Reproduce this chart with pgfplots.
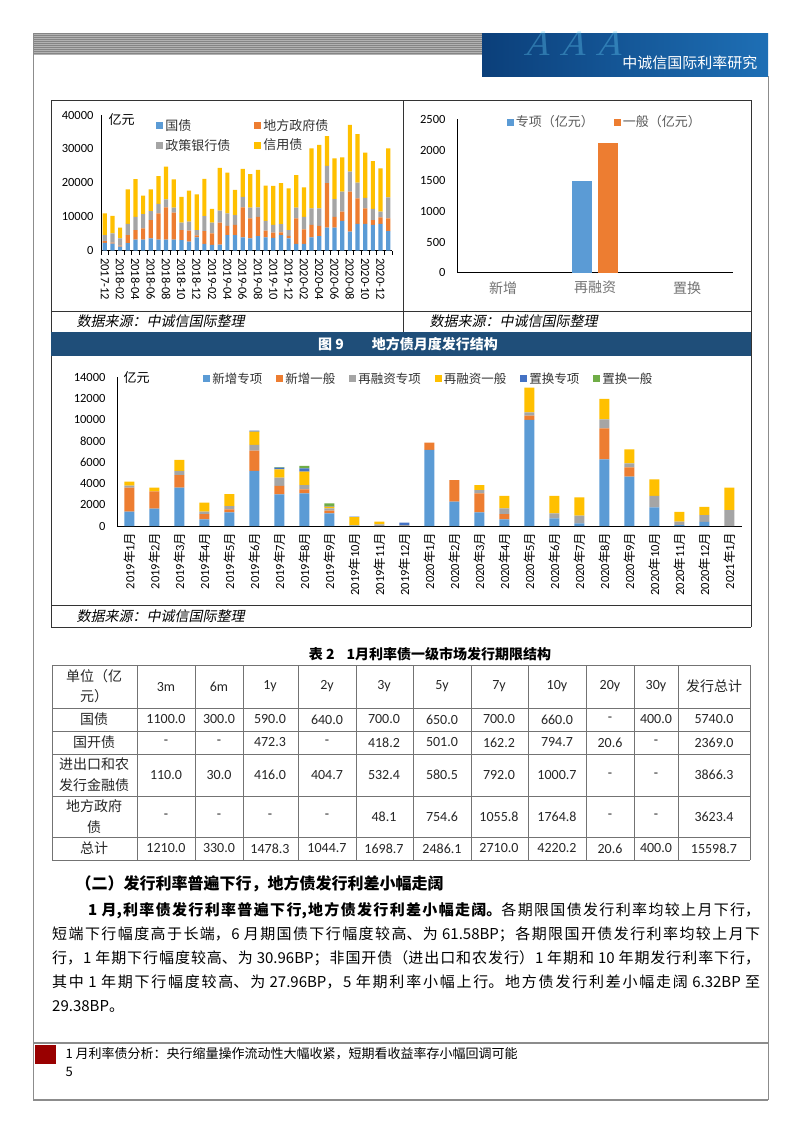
\documentclass[border=0pt]{standalone}
\usepackage{fontspec}
\setmainfont{Noto Sans CJK SC}
\newfontfamily\numf{Carlito}
\newfontfamily\srcfont[FakeSlant=0.2]{Noto Sans CJK SC}
\newfontfamily\decof[FakeSlant=0.3]{Liberation Serif}
\usepackage{pgfplots}
\usepackage{pgfplotstable}
\pgfplotsset{compat=1.18}
\definecolor{cA}{HTML}{5B9BD5}
\definecolor{cB}{HTML}{ED7D31}
\definecolor{cC}{HTML}{A5A5A5}
\definecolor{cD}{HTML}{FFC000}
\definecolor{cE}{HTML}{4472C4}
\definecolor{cF}{HTML}{70AD47}
\definecolor{navy}{HTML}{1F4E79}
\definecolor{dred}{HTML}{990000}
\definecolor{hdA}{HTML}{0B3F7A}
\definecolor{hdB}{HTML}{1E6FB5}
\newcommand\fz[1]{\fontsize{#1}{#1}\selectfont}
\newcommand\ym[2]{{\numf #1}年{\numf #2}月}

\pgfplotstableread{
x a b c d
0 2300 500 1800 6400
1 2100 300 2700 5200
2 1200 300 2100 3200
3 2200 2400 3300 10200
4 3300 2800 3900 11100
5 3300 3300 4200 5400
6 3600 5400 2700 6400
7 3300 7700 2800 8200
8 3300 9500 2300 9700
9 3300 7900 1500 8300
10 3100 3000 2200 7600
11 2700 3200 2700 9100
12 3900 600 1600 10500
13 2000 3800 4400 11000
14 1700 3400 3200 4000
15 1800 6500 3500 12600
16 4600 2700 3700 12000
17 4600 3000 2900 7400
18 3900 8900 3100 8200
19 3600 5900 3200 9900
20 4300 5700 2800 11000
21 3900 2000 2900 10400
22 3800 1500 2300 11500
23 4600 800 2400 12100
24 3600 800 1700 12300
25 2000 7500 3200 9600
26 2000 4300 3700 8700
27 3900 3700 4900 17700
28 4300 3000 5200 18700
29 6800 13100 5100 8800
30 6800 3200 5200 12000
31 8800 2700 5900 10100
32 5600 11800 5900 13800
33 7900 7500 4700 14300
34 7900 4600 3100 13300
35 7600 1400 3300 14100
36 7900 1900 1700 12800
37 5800 3700 6200 14500
}\tA

\pgfplotstableread{
x a b c d e f
0 1350 2260 190 380 0 0
1 1630 1640 0 340 0 0
2 3610 1190 380 1040 0 0
3 630 500 220 850 0 0
4 1290 280 310 1130 0 0
5 5180 1920 530 1260 90 0
6 2980 790 780 790 160 50
7 3080 370 410 1260 310 220
8 1190 250 220 160 60 260
9 30 0 40 760 60 0
10 0 0 150 260 0 0
11 0 0 80 0 250 0
12 7160 690 0 0 0 0
13 2290 2040 0 0 0 0
14 1290 1790 310 470 0 0
15 630 500 530 1170 0 0
16 9990 400 320 2320 0 0
17 720 0 470 1640 0 0
18 250 0 720 1730 0 0
19 6280 2920 850 1910 0 0
20 4650 880 370 1320 0 0
21 1760 0 1070 1570 0 0
22 80 0 330 910 0 0
23 400 0 630 780 0 0
24 0 0 1490 2120 0 0
}\tC

\pgfplotsset{
  every axis/.append style={
    scale only axis,
    axis x line*=bottom, axis y line*=left,
    axis line style={-, black, line width=0.7pt},
    /pgf/number format/assume math mode=true,
    /pgf/number format/1000 sep={},
    scaled y ticks=false,
    tick label style={font=\numf\fz{12.5}, text=black},
    legend cell align=left,
  },
}

\begin{document}
\begin{tikzpicture}
\path[use as bounding box] (0pt,0pt) rectangle (802pt,-1133pt);
\fill[white] (0pt,0pt) rectangle (802pt,-1133pt);
\begin{scope}[x=1pt,y=-1pt]
% header
\fill[black!48] (33,33) rectangle (482,55);
\foreach \yy in {34,36,...,54} \draw[black!30, line width=0.6] (33,\yy)--(482,\yy);
\shade[left color=hdA, right color=hdB] (482,33) rectangle (768,76);
\node[text=cyan!60!white, opacity=0.35, font=\decof\fz{36}, anchor=west] at (520,44) {A\hspace{10pt}A\hspace{10pt}A};
\node[text=white, font=\fz{15}, anchor=east] at (761,63) {中诚信国际利率研究};
% page frame
\draw[black!45, line width=0.6] (33,33)--(33,1100);
\draw[black!45, line width=0.6] (768,76)--(768,1100);
\draw[black!45, line width=1.5] (33,1100)--(768,1100);
\draw[black!45, line width=2] (33,1043)--(768,1043);
\fill[dred] (35,1045) rectangle (56,1064);
\node[anchor=west, font=\fz{13}] at (62,1054) {1 月利率债分析：央行缩量操作流动性大幅收紧，短期看收益率存小幅回调可能};
\node[anchor=west, font=\fz{13}] at (62,1072) {5};
% chart frames
\draw[black!80, line width=0.7] (51,100)--(751,100);
\draw[black!80, line width=0.7] (51,100)--(51,627);
\draw[black!80, line width=0.7] (751,100)--(751,627);
\draw[black!80, line width=0.7] (403,100)--(403,332);
\draw[black!80, line width=0.7] (51,311)--(751,311);
\draw[black!80, line width=0.7] (51,605)--(751,605);
\draw[black!80, line width=0.7] (51,627)--(751,627);
\fill[navy] (51,332) rectangle (751,356);
\node[text=white, font=\bfseries\fz{14}] at (408,344) {图 9\hspace{28pt}地方债月度发行结构};
\node[anchor=west, font=\srcfont\fz{14}] at (73,321) {数据来源：中诚信国际整理};
\node[anchor=west, font=\srcfont\fz{14}] at (426,321) {数据来源：中诚信国际整理};
\node[anchor=west, font=\srcfont\fz{14}] at (73,616) {数据来源：中诚信国际整理};
\node[anchor=west, font=\fz{13}] at (105,120) {亿元};
\node[anchor=west, font=\fz{13}] at (120,378) {亿元};
% table
\node[font=\bfseries\fz{14}] at (430,654) {表 2\hspace{12pt}1月利率债一级市场发行期限结构};
\foreach \xx in {52,137,195,243,298,356,413,471,528,586,634,678,750} \draw[black!55, line width=0.7] (\xx,665)--(\xx,860);
\foreach \yy in {665,708,731,754,796,837,860} \draw[black!55, line width=0.7] (52,\yy)--(750,\yy);
\begin{scope}[every node/.style={text=black!85}]
\node[align=center, font=\fontsize{14}{20}\selectfont] at (94,686.5) {单位（亿\\元）};
\foreach \xx/\t in {166/3m,219/6m,270/1y,327/2y,384/3y,442/5y,499/7y,557/10y,610/20y,656/30y}
  \node[font=\numf\fz{14}] at (\xx,686.5) {\t};
\node[font=\fz{14}] at (714,686.5) {发行总计};
\node[font=\fz{14}] at (94,719.5) {国债};
\foreach \xx/\t in {166/1100.0,219/300.0,270/590.0,327/640.0,384/700.0,442/650.0,499/700.0,557/660.0,610/-,656/400.0,714/5740.0}
  \node[font=\numf\fz{14}] at (\xx,719.5) {\t};
\node[font=\fz{14}] at (94,742.5) {国开债};
\foreach \xx/\t in {166/-,219/-,270/472.3,327/-,384/418.2,442/501.0,499/162.2,557/794.7,610/20.6,656/-,714/2369.0}
  \node[font=\numf\fz{14}] at (\xx,742.5) {\t};
\node[align=center, font=\fontsize{14}{21}\selectfont] at (94,775) {进出口和农\\发行金融债};
\foreach \xx/\t in {166/110.0,219/30.0,270/416.0,327/404.7,384/532.4,442/580.5,499/792.0,557/1000.7,610/-,656/-,714/3866.3}
  \node[font=\numf\fz{14}] at (\xx,775) {\t};
\node[align=center, font=\fontsize{14}{21}\selectfont] at (94,816.5) {地方政府\\债};
\foreach \xx/\t in {166/-,219/-,270/-,327/-,384/48.1,442/754.6,499/1055.8,557/1764.8,610/-,656/-,714/3623.4}
  \node[font=\numf\fz{14}] at (\xx,816.5) {\t};
\node[font=\fz{14}] at (94,848.5) {总计};
\foreach \xx/\t in {166/1210.0,219/330.0,270/1478.3,327/1044.7,384/1698.7,442/2486.1,499/2710.0,557/4220.2,610/20.6,656/400.0,714/15598.7}
  \node[font=\numf\fz{14}] at (\xx,848.5) {\t};
\end{scope}
% text
\node[anchor=west, font=\bfseries\fz{16}] at (72,884) {（二）发行利率普遍下行，地方债发行利差小幅走阔};
\node[anchor=base west, inner sep=0pt] at (52,915.5) {\parbox[t]{708pt}{\fontsize{15}{24}\selectfont
\XeTeXlinebreaklocale "zh"\XeTeXlinebreakskip=0pt plus 3pt\tolerance=9999\parindent=0pt
\hspace*{36pt}\textbf{1 月,利率债发行利率普遍下行,地方债发行利差小幅走阔。}各期限国债发行利率均较上月下行，\linebreak
短端下行幅度高于长端，6 月期国债下行幅度较高、为 61.58BP；各期限国开债发行利率均较上月下\linebreak
行，1 年期下行幅度较高、为 30.96BP；非国开债（进出口和农发行）1 年期和 10 年期发行利率下行，\linebreak
其中 1 年期下行幅度较高、为 27.96BP，5 年期利率小幅上行。地方债发行利差小幅走阔 6.32BP 至\linebreak
29.38BP。}};
\end{scope}

% chart 1
\begin{axis}[
  at={(101pt,-250.7pt)}, anchor=south west,
  width=291pt, height=135.7pt,
  ybar stacked, bar width=4.2pt,
  xmin=-0.5, xmax=37.5, ymin=0, ymax=40000,
  xtick={0,2,...,36},
  xticklabels={2017-12,2018-02,2018-04,2018-06,2018-08,2018-10,2018-12,2019-02,2019-04,2019-06,2019-08,2019-10,2019-12,2020-02,2020-04,2020-06,2020-08,2020-10,2020-12},
  minor xtick={-0.5,0.5,...,37.5},
  major tick length=0pt, minor tick length=4pt, tick align=outside,
  minor tick style={black, line width=0.6pt},
  ytick={0,10000,20000,30000,40000},
  yticklabel style={xshift=-4pt},
  xticklabel style={rotate=-90, anchor=west, xshift=4pt},
  legend columns=2,
  legend style={at={(0.19,0.849)}, anchor=west, draw=none, fill=none, inner sep=0pt,
    font=\fz{13}, text=black!80, row sep=3pt,
    /tikz/every even column/.append style={column sep=22pt}},
  legend image code/.code={\fill[#1] (0pt,-3.5pt) rectangle (7pt,3.5pt);},
]
\addplot[fill=cA, draw=none] table[x=x,y=a]{\tA};
\addplot[fill=cB, draw=none] table[x=x,y=b]{\tA};
\addplot[fill=cC, draw=none] table[x=x,y=c]{\tA};
\addplot[fill=cD, draw=none] table[x=x,y=d]{\tA};
\legend{国债,地方政府债,政策银行债,信用债}
\end{axis}

% chart 2
\begin{axis}[
  at={(457pt,-272.7pt)}, anchor=south west,
  width=276pt, height=153.4pt,
  ybar=6pt, bar width=20pt,
  xmin=-0.5, xmax=2.5, ymin=0, ymax=2500,
  xtick={0,1,2}, xticklabels={新增,再融资,置换},
  ytick={0,500,...,2500},
  major tick length=0pt,
  yticklabel style={xshift=-8pt},
  xticklabel style={font=\fz{14}, text=black!55, yshift=-5pt},
  legend columns=2,
  legend style={at={(0.18,0.982)}, anchor=west, draw=none, fill=none, inner sep=0pt,
    font=\fz{13}, text=black!65,
    /tikz/every even column/.append style={column sep=18pt}},
  legend image code/.code={\fill[#1] (0pt,-3.5pt) rectangle (7pt,3.5pt);},
]
\addplot[fill=cA, draw=none] coordinates {(1,1490)};
\addplot[fill=cB, draw=none] coordinates {(1,2120)};
\legend{专项（亿元）,一般（亿元）}
\end{axis}

% chart 3
\begin{axis}[
  at={(117pt,-526pt)}, anchor=south west,
  width=624.8pt, height=148.7pt,
  ybar stacked, bar width=10pt,
  xmin=-0.5, xmax=24.5, ymin=0, ymax=14000,
  xtick={0,...,24},
  xticklabels={\ym{2019}{1},\ym{2019}{2},\ym{2019}{3},\ym{2019}{4},\ym{2019}{5},\ym{2019}{6},\ym{2019}{7},\ym{2019}{8},\ym{2019}{9},\ym{2019}{10},\ym{2019}{11},\ym{2019}{12},\ym{2020}{1},\ym{2020}{2},\ym{2020}{3},\ym{2020}{4},\ym{2020}{5},\ym{2020}{6},\ym{2020}{7},\ym{2020}{8},\ym{2020}{9},\ym{2020}{10},\ym{2020}{11},\ym{2020}{12},\ym{2021}{1}},
  ytick={0,2000,...,14000},
  major tick length=0pt,
  yticklabel style={xshift=-8pt},
  xticklabel style={rotate=90, anchor=east, font=\fz{12.5}, xshift=-3pt},
  legend columns=6,
  legend style={at={(0.138,0.989)}, anchor=west, draw=none, fill=none, inner sep=0pt,
    font=\fz{12.5}, text=black!80,
    /tikz/every even column/.append style={column sep=12pt}},
  legend image code/.code={\fill[#1] (0pt,-3.5pt) rectangle (7pt,3.5pt);},
]
\addplot[fill=cA, draw=none] table[x=x,y=a]{\tC};
\addplot[fill=cB, draw=none] table[x=x,y=b]{\tC};
\addplot[fill=cC, draw=none] table[x=x,y=c]{\tC};
\addplot[fill=cD, draw=none] table[x=x,y=d]{\tC};
\addplot[fill=cE, draw=none] table[x=x,y=e]{\tC};
\addplot[fill=cF, draw=none] table[x=x,y=f]{\tC};
\legend{新增专项,新增一般,再融资专项,再融资一般,置换专项,置换一般}
\end{axis}
\end{tikzpicture}
\end{document}
